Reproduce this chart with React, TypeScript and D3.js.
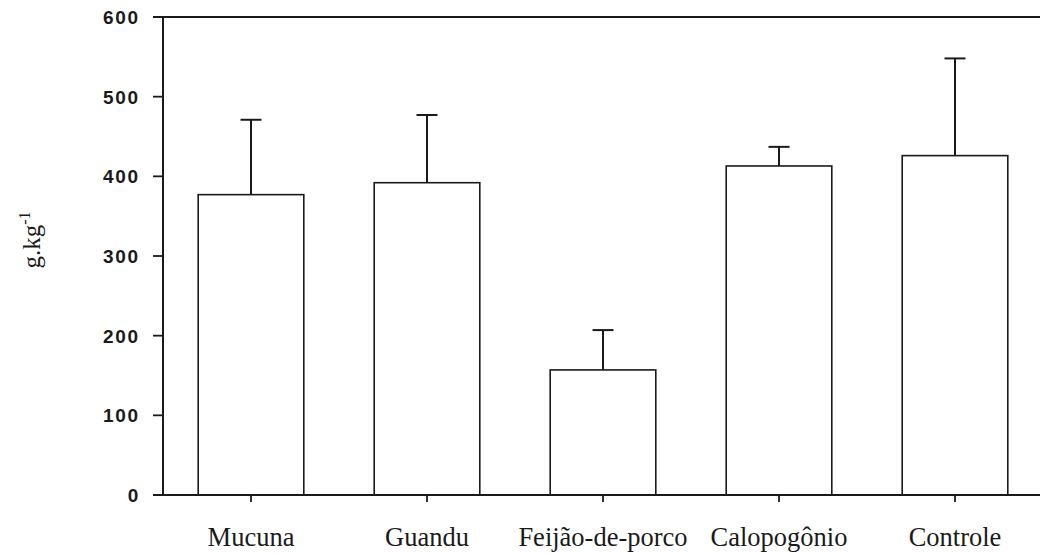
import React from "react";
import * as d3 from "d3";

// Teor médio (g.kg-1) por cobertura, com desvio acima da barra
const categories = ["Mucuna", "Guandu", "Feijão-de-porco", "Calopogônio", "Controle"];
const means = [377, 392, 157, 413, 426];
const errors = [94, 85, 50, 24, 122];
const yTicks = [0, 100, 200, 300, 400, 500, 600];

const W = 1040;
const H = 554;
const left = 163;
const right = 1043;
const top = 17;
const bottom = 495;

export default function App() {
  const x = d3
    .scaleBand<string>()
    .domain(categories)
    .range([left, right])
    .paddingInner(0.4)
    .paddingOuter(0.2);
  const y = d3.scaleLinear().domain([0, 600]).range([bottom, top]);
  const bw = x.bandwidth();
  const capHalf = 10.5;
  const ink = "#1a1a1a";

  return (
    <svg
      width={W}
      height={H}
      style={{ position: "absolute", left: 0, top: 0, background: "#fff" }}
    >
      {/* bars with upper error whiskers */}
      {categories.map((c, i) => {
        const x0 = x(c)!;
        const cx = x0 + bw / 2;
        const yTop = y(means[i]);
        const yErr = y(means[i] + errors[i]);
        return (
          <g key={c}>
            <line x1={cx} x2={cx} y1={yTop} y2={yErr} stroke={ink} strokeWidth={2} />
            <line
              x1={cx - capHalf}
              x2={cx + capHalf}
              y1={yErr}
              y2={yErr}
              stroke={ink}
              strokeWidth={2}
            />
            <rect
              x={x0}
              y={yTop}
              width={bw}
              height={bottom - yTop}
              fill="#fff"
              stroke={ink}
              strokeWidth={1.6}
            />
          </g>
        );
      })}

      {/* frame */}
      <line x1={left} x2={left} y1={top} y2={bottom} stroke={ink} strokeWidth={2} />
      <line x1={left - 10} x2={W} y1={top} y2={top} stroke={ink} strokeWidth={1.8} />
      <line x1={left - 10} x2={W} y1={bottom} y2={bottom} stroke={ink} strokeWidth={1.8} />

      {/* y axis ticks and labels */}
      {yTicks.map((t) => (
        <g key={t}>
          <line x1={left - 10} x2={left} y1={y(t)} y2={y(t)} stroke={ink} strokeWidth={1.8} />
          <text
            x={140}
            y={y(t)}
            dy="0.36em"
            textAnchor="end"
            fontFamily="'Liberation Sans', Arial, sans-serif"
            fontWeight="bold"
            fontSize={19}
            letterSpacing={1.8}
            fill={ink}
          >
            {t}
          </text>
        </g>
      ))}

      {/* x axis ticks and category labels */}
      {categories.map((c) => {
        const cx = x(c)! + bw / 2;
        return (
          <g key={c}>
            <line x1={cx} x2={cx} y1={bottom} y2={bottom + 7} stroke={ink} strokeWidth={1.8} />
            <text
              x={cx}
              y={546}
              textAnchor="middle"
              fontFamily="'Liberation Serif', 'Times New Roman', serif"
              fontSize={26.5}
              fill={ink}
            >
              {c}
            </text>
          </g>
        );
      })}

      {/* y axis title */}
      <text
        transform={`translate(40, ${(top + bottom) / 2 - 16}) rotate(-90)`}
        textAnchor="middle"
        fontFamily="'Liberation Serif', 'Times New Roman', serif"
        fontSize={25}
        fill={ink}
      >
        g.kg
        <tspan dy={-10} fontSize={16}>
          -1
        </tspan>
      </text>
    </svg>
  );
}
